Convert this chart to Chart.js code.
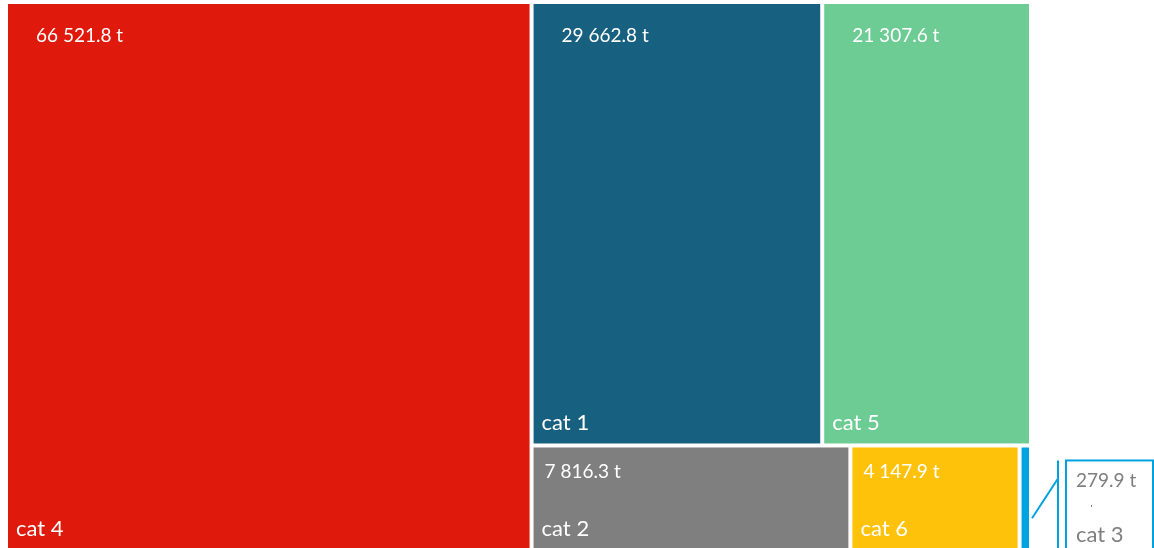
<!DOCTYPE html>
<html lang="en">

<head>
  <meta charset="UTF-8">
  <title>Treemap</title>
  <script src="https://cdn.jsdelivr.net/npm/chart.js"></script>
  <style>
    html, body { margin: 0; padding: 0; background: #fff; overflow: hidden; }
    /* a little taller than the window so the bottom row runs off the edge */
    .chart-container { position: relative; width: 1154px; height: 552px; }
  </style>
</head>

<body>
  <div class="chart-container">
    <canvas id="treemap"></canvas>
  </div>

  <script>
    const categories = ['cat 4', 'cat 1', 'cat 5', 'cat 2', 'cat 6', 'cat 3'];
    const values = [66521.8, 29662.8, 21307.6, 7816.3, 4147.9, 279.9];
    const colors = ['#DF1A0C', '#17607F', '#6DCC93', '#7F7F7F', '#FFC20A', '#00A3E0'];
    const unit = 't';

    const FONT = 'Lato, "Open Sans", sans-serif';

    function formatValue(v) {
      const parts = v.toFixed(1).split('.');
      return parts[0].replace(/\B(?=(\d{3})+(?!\d))/g, ' ') + '.' + parts[1] + ' ' + unit;
    }

    // squarified layout in a 0..1 square; ratio = pixel width / pixel height
    // a strip keeps growing while the mean aspect of its cells gets better
    function layoutCells(vals, ratio) {
      const total = vals.reduce((a, b) => a + b, 0);
      const frac = vals.map(v => v / total);
      const cells = [];
      let rect = { x: 0, y: 0, w: 1, h: 1 };
      let i = 0;

      function stripCells(row, r, vertical) {
        const sum = row.reduce((a, k) => a + frac[k], 0);
        const out = [];
        if (vertical) {
          const sw = sum / r.h;
          let y = r.y;
          row.forEach(k => {
            const ih = frac[k] / sw;
            out.push({ index: k, x: r.x, y: y, w: sw, h: ih });
            y += ih;
          });
        } else {
          const sh = sum / r.w;
          let x = r.x;
          row.forEach(k => {
            const iw = frac[k] / sh;
            out.push({ index: k, x: x, y: r.y, w: iw, h: sh });
            x += iw;
          });
        }
        return out;
      }

      function meanAspect(list) {
        let s = 0;
        list.forEach(c => {
          const a = (c.w * ratio) / c.h;
          s += Math.max(a, 1 / a);
        });
        return s / list.length;
      }

      while (i < vals.length) {
        const vertical = rect.w * ratio >= rect.h;
        let row = [i];
        let best = meanAspect(stripCells(row, rect, vertical));
        while (i + row.length < vals.length) {
          const next = row.concat(i + row.length);
          const a = meanAspect(stripCells(next, rect, vertical));
          if (a > best) break;
          row = next;
          best = a;
        }
        const placed = stripCells(row, rect, vertical);
        placed.forEach(c => cells.push(c));
        if (vertical) {
          const sw = placed[0].w;
          rect = { x: rect.x + sw, y: rect.y, w: rect.w - sw, h: rect.h };
        } else {
          const sh = placed[0].h;
          rect = { x: rect.x, y: rect.y + sh, w: rect.w, h: rect.h - sh };
        }
        i += row.length;
      }
      return cells;
    }

    const treemapPlugin = {
      id: 'treemapCells',
      afterDatasetsDraw(chart) {
        const ctx = chart.ctx;
        const xs = chart.scales.x;
        const ys = chart.scales.y;
        const area = chart.chartArea;
        const cells = layoutCells(values, (area.right - area.left) / (area.bottom - area.top));
        const gap = 2;

        ctx.save();
        cells.forEach(c => {
          const left = xs.getPixelForValue(c.x) + gap;
          const right = xs.getPixelForValue(c.x + c.w) - gap;
          const top = ys.getPixelForValue(c.y) + gap;
          const bottom = ys.getPixelForValue(c.y + c.h) - gap;
          const w = right - left;
          const h = bottom - top;
          ctx.fillStyle = colors[c.index];
          ctx.fillRect(left, top, w, h);

          ctx.textBaseline = 'middle';
          ctx.textAlign = 'left';
          if (w >= 40) {
            const tall = h > 200;
            ctx.fillStyle = '#ffffff';
            ctx.font = '19px ' + FONT;
            ctx.fillText(formatValue(values[c.index]), left + (tall ? 28 : 11), top + (tall ? 32 : 24));
            ctx.font = '22px ' + FONT;
            ctx.fillText(categories[c.index], left + 8, bottom - 21);
          } else {
            // small cell: label goes in a callout box to the right
            const sx = right + 3;
            const sy = top + h * 0.69;
            const ex = right + 29;
            const boxL = right + 37;
            const boxT = top + 13;
            ctx.strokeStyle = colors[c.index];
            ctx.lineWidth = 2;
            ctx.beginPath();
            ctx.moveTo(sx, sy);
            ctx.lineTo(ex, boxT + 18);
            ctx.stroke();
            ctx.beginPath();
            ctx.moveTo(ex, boxT);
            ctx.lineTo(ex, chart.height + 2);
            ctx.stroke();
            ctx.strokeRect(boxL, boxT, chart.width - 1 - boxL, chart.height + 4 - boxT);

            ctx.fillStyle = '#7F7F7F';
            ctx.font = '19px ' + FONT;
            ctx.fillText(formatValue(values[c.index]), boxL + 10, boxT + 20);
            ctx.font = '22px ' + FONT;
            ctx.fillText(categories[c.index], boxL + 10, boxT + 74);
            ctx.fillStyle = '#000000';
            ctx.fillRect(boxL + 25, boxT + 45, 1, 1);
          }
        });
        ctx.restore();
      }
    };

    new Chart(document.getElementById('treemap'), {
      type: 'scatter',
      data: {
        datasets: [{ label: unit, data: [] }]
      },
      options: {
        responsive: true,
        maintainAspectRatio: false,
        animation: false,
        layout: { padding: { left: 6, top: 2, right: 123, bottom: 0 } },
        scales: {
          x: { type: 'linear', min: 0, max: 1, display: false },
          y: { type: 'linear', min: 0, max: 1, reverse: true, display: false }
        },
        plugins: {
          legend: { display: false },
          tooltip: { enabled: false }
        }
      },
      plugins: [treemapPlugin]
    });
  </script>
</body>

</html>
